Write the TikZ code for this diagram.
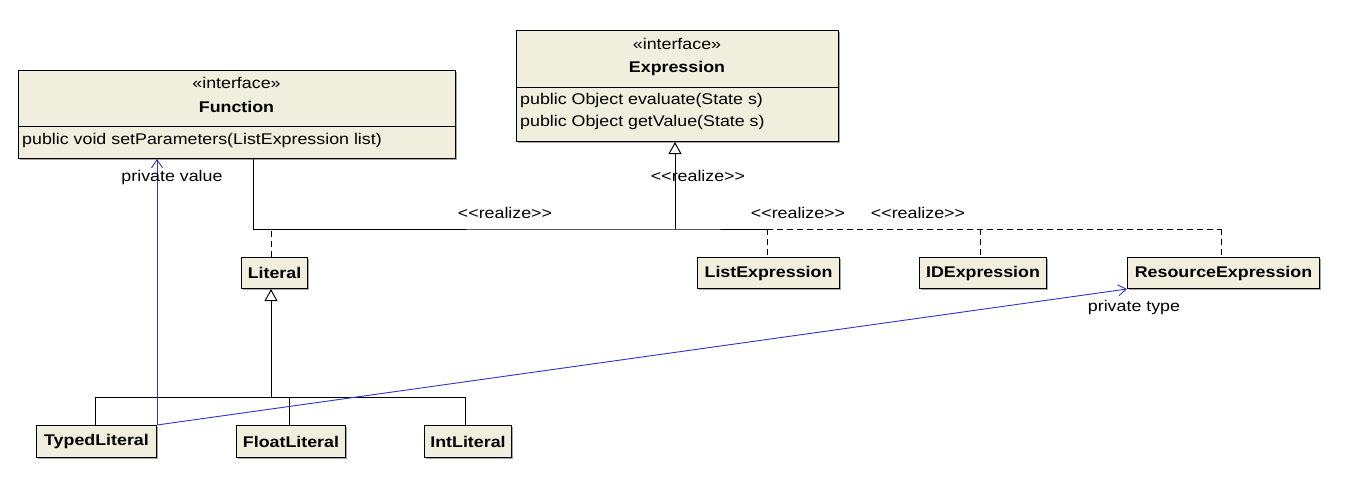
\documentclass[tikz,border=0pt]{standalone}
\usepackage{fontspec}
\setmainfont[FakeStretch=1.15, Ligatures=TeXOff]{Liberation Sans}
\usetikzlibrary{arrows.meta,shadows,calc}
\definecolor{boxfill}{RGB}{240,238,220}
\definecolor{assoc}{RGB}{50,50,204}
\begin{document}
\begin{tikzpicture}[x=1pt,y=-1pt,
  box/.style={draw=black, fill=boxfill, line width=1pt, inner sep=0pt, anchor=north west,
    drop shadow={shadow xshift=1.5pt, shadow yshift=-1.5pt, fill=black!35, opacity=1}},
  cls/.style={box, font=\fontsize{15.5}{18}\selectfont\bfseries, minimum height=31pt},
  txt/.style={inner sep=0pt, font=\fontsize{15.5}{18}\selectfont},
  btxt/.style={inner sep=0pt, font=\fontsize{15.5}{18}\selectfont\bfseries},
  conn/.style={line width=1pt, draw=black},
  realize/.style={conn, dash pattern=on 6pt off 4pt},
  gen/.style={conn, -{Triangle[open, length=12pt, width=13pt, line width=1pt]}},
  assocl/.style={line width=0.9pt, draw=assoc, -{Straight Barb[length=8pt, width=11pt, line width=0.9pt]}}
]
\useasboundingbox[fill=white] (0,0) rectangle (1347,488);

% interface Function
\node[box, minimum width=437pt, minimum height=88pt] (Function) at (18,70) {};
\node[txt] (fst) at (236.5,83) {«interface»};
\node[btxt] (fname) at (236.5,107) {Function};
\draw[conn] (18,126) -- (455,126);
\node[txt, anchor=west] (fm1) at (22,140) {public void setParameters(ListExpression list)};

% interface Expression
\node[box, minimum width=322pt, minimum height=111pt] (Expression) at (516,30) {};
\node[txt] (est) at (677,44) {«interface»};
\node[btxt] (ename) at (677,68) {Expression};
\draw[conn] (516,87) -- (838,87);
\node[txt, anchor=west] (em1) at (520,100) {public Object evaluate(State s)};
\node[txt, anchor=west] (em2) at (520,122) {public Object getValue(State s)};

% classes
\node[cls, minimum width=66pt] (Literal) at (241,257) {Literal};
\node[cls, minimum width=142pt] (ListExpression) at (697,257) {ListExpression};
\node[cls, minimum width=127pt] (IDExpression) at (919,257) {IDExpression};
\node[cls, minimum width=192pt] (ResourceExpression) at (1127,257) {ResourceExpression};
\node[cls, minimum width=120pt, minimum height=32pt] (TypedLiteral) at (36,425) {TypedLiteral};
\node[cls, minimum width=109pt, minimum height=32pt] (FloatLiteral) at (236,425) {FloatLiteral};
\node[cls, minimum width=87pt, minimum height=32pt] (IntLiteral) at (424,425) {IntLiteral};

% realization tree
\coordinate (j) at (675,229);
\coordinate (k) at (767,229);
\coordinate (r) at (1221,229);
\draw[conn] ([xshift=235pt]Function.south west) |- (j) -- (k);
\draw[gen] (j) -- (j |- Expression.south);
\draw[realize] (k) -- (r);
\draw[realize] (Literal.north -| 271,0) -- (271,229);
\draw[realize] (k) -- (k |- ListExpression.north);
\draw[realize] (980,229) -- (IDExpression.north -| 980,0);
\draw[realize] (r) -- (r |- ResourceExpression.north);

% generalization tree
\coordinate (t) at (271,397);
\draw[gen] (t) -- (t |- Literal.south);
\draw[conn] (95,397) -- (465,397);
\draw[conn] (95,397) -- (TypedLiteral.north -| 95,0);
\draw[conn] (289,397) -- (FloatLiteral.north -| 289,0);
\draw[conn] (465,397) -- (IntLiteral.north -| 465,0);

% associations
\draw[assocl] (TypedLiteral.north east) -- (TypedLiteral.north east |- Function.south);
\draw[assocl] (TypedLiteral.north east) -- (ResourceExpression.south west);

% labels
\node[txt] (l1) at (505,213) {<<realize>>};
\node[txt] (l2) at (698,176) {<<realize>>};
\node[txt] (l3) at (798,213) {<<realize>>};
\node[txt] (l4) at (918,213) {<<realize>>};
\node[txt] (pv) at (172,177) {private value};
\node[txt] (pt) at (1134,307) {private type};
\end{tikzpicture}
\end{document}
